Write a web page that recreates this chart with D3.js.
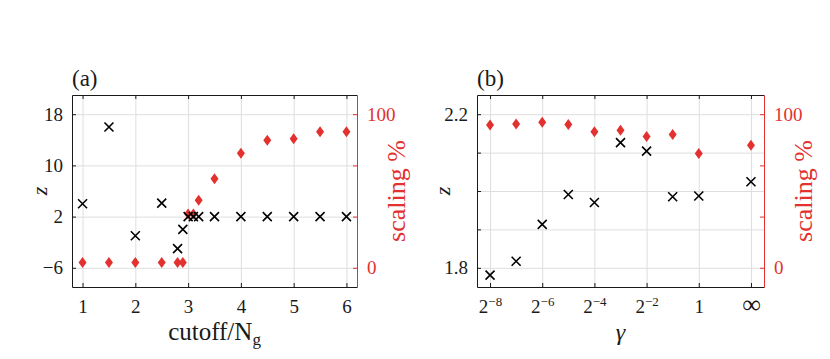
<!DOCTYPE html>
<html>
<head>
<meta charset="utf-8">
<script src="https://cdn.jsdelivr.net/npm/d3@7.9.0/dist/d3.min.js"></script>
<style>
  body { margin: 0; background: #fff; }
  svg { display: block; }
  svg text { font-family: "Liberation Serif", serif; }
  .grid line { stroke: #dedede; stroke-width: 1; }
  .grid path { display: none; }
</style>
</head>
<body>
<svg id="chart" width="830" height="359"></svg>
<script>
// panel (a) data
const cutoff = [1, 1.5, 2, 2.5, 2.8, 2.9, 3, 3.1, 3.2, 3.5, 4, 4.5, 5, 5.5, 6];
const zA = [4, 16, -1, 4.1, -3, 0, 2, 2, 2, 2, 2, 2, 2, 2, 2];
const scalingA = [3.5, 3.5, 3.5, 3.5, 3.5, 3.5, 35, 35, 44, 58, 74.5, 83, 84, 88.5, 88.5];
const ticksXA = [1, 2, 3, 4, 5, 6];
const ticksZA = [-6, 2, 10, 18];

// panel (b) data (gamma positions on an index axis, gap before infinity)
const gammaPos = [0, 1, 2, 3, 4, 5, 6, 7, 8, 10];
const zB = [1.781, 1.817, 1.913, 1.991, 1.970, 2.126, 2.104, 1.985, 1.987, 2.024];
const scalingB = [93.0, 93.7, 94.8, 93.3, 88.5, 89.6, 85.5, 86.8, 74.4, 79.8];
const ticksXB = [0, 2, 4, 6, 8, 10];
const tickBase = ["2", "2", "2", "2", "1", "∞"];
const tickExp = ["−8", "−6", "−4", "−2", "", ""];
const ticksZB = [1.8, 1.9, 2.0, 2.1, 2.2];
const labelZB = { "1.8": "1.8", "2.2": "2.2" };

const ticksScale = [0, 100 / 3, 200 / 3, 100];
const labelScale = { 0: "0", 100: "100" };

const RED = "#e2312f";
const INK = "#1a1a1a";
const svg = d3.select("#chart");

const yTop = 95, yBot = 287;

function panel(opt) {
  const g = svg.append("g");
  const x = d3.scaleLinear().domain(opt.xDomain).range([opt.left, opt.right]);
  const yL = d3.scaleLinear().domain(opt.yDomain).range([yBot, yTop]);
  const yR = d3.scaleLinear().domain([-12.5, 112.5]).range([yBot, yTop]);
  const w = opt.right - opt.left, h = yBot - yTop;

  // grid
  g.append("g").attr("class", "grid")
    .attr("transform", `translate(0,${yBot})`)
    .call(d3.axisBottom(x).tickValues(opt.xTicks).tickSize(-h).tickFormat(""));
  g.append("g").attr("class", "grid")
    .attr("transform", `translate(${opt.left},0)`)
    .call(d3.axisLeft(yL).tickValues(opt.yTicks).tickSize(-w).tickFormat(""));

  // bottom axis
  const xa = g.append("g")
    .attr("transform", `translate(0,${yBot})`)
    .call(d3.axisBottom(x).tickValues(opt.xTicks).tickSizeInner(-4).tickSizeOuter(0).tickPadding(12).tickFormat(opt.xFormat || d3.format("d")));
  // top axis
  const ta = g.append("g")
    .attr("transform", `translate(0,${yTop})`)
    .call(d3.axisTop(x).tickValues(opt.xTicks).tickSizeInner(-4).tickSizeOuter(0).tickFormat(""));
  // left axis
  const ya = g.append("g")
    .attr("transform", `translate(${opt.left},0)`)
    .call(d3.axisLeft(yL).tickValues(opt.yTicks).tickSizeInner(-4).tickSizeOuter(0).tickPadding(9).tickFormat(opt.yFormat));
  // right axis
  const ra = g.append("g")
    .attr("transform", `translate(${opt.right},0)`)
    .call(d3.axisRight(yR).tickValues(ticksScale).tickSizeInner(-4).tickSizeOuter(0).tickPadding(10)
      .tickFormat(d => Math.abs(d - Math.round(d)) < 1e-6 && labelScale[Math.round(d)] !== undefined ? labelScale[Math.round(d)] : ""));

  [xa, ta, ya, ra].forEach(a => a.attr("font-family", null).attr("font-size", null));
  [xa, ta, ya].forEach(a => {
    a.selectAll("path, line").attr("stroke", INK);
    a.selectAll("text").attr("fill", INK).style("font-size", "19px");
  });
  ra.selectAll("path, line").attr("stroke", RED);
  ra.selectAll("text").attr("fill", RED).style("font-size", "19px");
  xa.selectAll("text").attr("dy", "0.72em");

  if (opt.xPost) opt.xPost(xa);

  // markers
  const m = g.append("g");
  m.selectAll("path.dia").data(opt.xs).join("path")
    .attr("class", "dia")
    .attr("transform", (d, i) => `translate(${x(d)},${yR(opt.sc[i])})`)
    .attr("d", "M0,-5.5L4,0L0,5.5L-4,0Z")
    .attr("fill", RED);
  m.selectAll("path.crs").data(opt.xs).join("path")
    .attr("class", "crs")
    .attr("transform", (d, i) => `translate(${x(d)},${yL(opt.zs[i])})`)
    .attr("d", "M-4.5,-4.5L4.5,4.5M-4.5,4.5L4.5,-4.5")
    .attr("stroke", "#000").attr("stroke-width", 1.6).attr("fill", "none");

  // titles
  g.append("text").attr("x", opt.left).attr("y", 86)
    .style("font-size", "23px").attr("fill", INK).text(opt.title);
  g.append("text")
    .attr("transform", `translate(${opt.left - 25 - opt.zOff},${(yTop + yBot) / 2}) rotate(-90)`)
    .attr("text-anchor", "middle").style("font-size", "22px").style("font-style", "italic")
    .attr("fill", INK).text("z");
  g.append("text")
    .attr("transform", `translate(${opt.right + 48},${(yTop + yBot) / 2}) rotate(-90)`)
    .attr("text-anchor", "middle").style("font-size", "26px")
    .attr("fill", RED).text("scaling %");
  const xl = g.append("text").attr("x", (opt.left + opt.right) / 2).attr("y", 340)
    .attr("text-anchor", "middle").style("font-size", "25px").attr("fill", INK);
  opt.xLabel(xl);
}

panel({
  title: "(a)", left: 72, right: 357, xDomain: [0.8, 6.2], yDomain: [-9, 21],
  xTicks: ticksXA, yTicks: ticksZA, yFormat: d3.format("d"), zOff: 0,
  xs: cutoff, zs: zA, sc: scalingA,
  xLabel: t => {
    t.append("tspan").text("cutoff/N");
    t.append("tspan").attr("dy", 5).style("font-size", "17px").text("g");
  }
});

panel({
  title: "(b)", left: 477, right: 764, xDomain: [-0.5, 10.5], yDomain: [1.75, 2.25],
  xTicks: ticksXB, yTicks: ticksZB, zOff: 2,
  yFormat: d => labelZB[d.toFixed(1)] || "",
  xFormat: () => "",
  xs: gammaPos, zs: zB, sc: scalingB,
  xPost: a => {
    a.selectAll(".tick text").each(function (d) {
      const i = ticksXB.indexOf(d);
      const t = d3.select(this);
      t.append("tspan").text(tickBase[i]).style("font-size", tickBase[i] === "∞" ? "26px" : "19px");
      if (tickExp[i]) {
        t.append("tspan").attr("dy", "-0.55em").style("font-size", "13px").text(tickExp[i]);
      }
    });
  },
  xLabel: t => t.style("font-style", "italic").style("font-size", "24px").text("γ")
});
</script>
</body>
</html>
